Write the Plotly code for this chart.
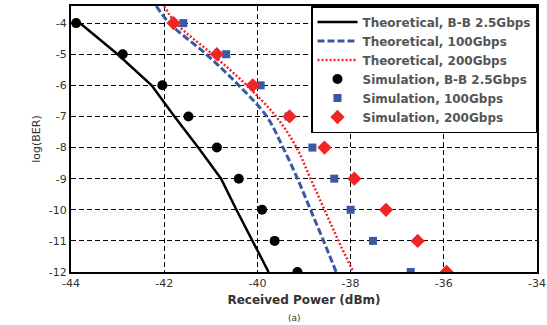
import plotly.graph_objects as go

# Theoretical curves (x = received power dBm, y = log(BER))
th_bb_y = [-3.95, -5, -6, -7, -8, -9, -10, -11, -12]
th_bb_x = [-43.85, -43.0, -42.27, -41.78, -41.27, -40.78, -40.45, -40.1, -39.76]

th_100_y = [-3.45, -4, -5, -6, -7, -8, -9, -10, -11, -12]
th_100_x = [-42.17, -41.89, -41.1, -40.4, -39.8, -39.45, -39.14, -38.86, -38.58, -38.31]

th_200_y = [-3.45, -4, -5, -6, -7, -8, -9, -10, -11, -12]
th_200_x = [-42.0, -41.75, -40.97, -40.23, -39.6, -39.16, -38.86, -38.56, -38.26, -37.94]

# Simulation points
sim_y = [-4, -5, -6, -7, -8, -9, -10, -11, -12]
sim_bb_x = [-43.89, -42.89, -42.04, -41.48, -40.87, -40.4, -39.9, -39.63, -39.14]
sim_100_x = [-41.59, -40.67, -39.93, -39.33, -38.82, -38.35, -38.0, -37.52, -36.71]
sim_200_x = [-41.8, -40.87, -40.1, -39.31, -38.56, -37.92, -37.24, -36.56, -35.94]

x_ticks = [-44, -42, -40, -38, -36, -34]
y_ticks = [-4, -5, -6, -7, -8, -9, -10, -11, -12]

BLUE = "#3b57a8"
RED = "#f02525"

fig = go.Figure()
fig.add_trace(go.Scatter(x=th_bb_x, y=th_bb_y, mode="lines", name="Theoretical, B-B 2.5Gbps",
                         line=dict(color="black", width=2.5)))
fig.add_trace(go.Scatter(x=th_100_x, y=th_100_y, mode="lines", name="Theoretical, 100Gbps",
                         line=dict(color=BLUE, width=3, dash="7px,3px", shape="spline")))
fig.add_trace(go.Scatter(x=th_200_x, y=th_200_y, mode="lines", name="Theoretical, 200Gbps",
                         line=dict(color=RED, width=2.5, dash="2px,2px", shape="spline")))
fig.add_trace(go.Scatter(x=sim_bb_x, y=sim_y, mode="markers", name="Simulation, B-B 2.5Gbps",
                         marker=dict(color="black", size=10, symbol="circle")))
fig.add_trace(go.Scatter(x=sim_100_x, y=sim_y, mode="markers", name="Simulation, 100Gbps",
                         marker=dict(color=BLUE, size=8, symbol="square")))
fig.add_trace(go.Scatter(x=sim_200_x, y=sim_y, mode="markers", name="Simulation, 200Gbps",
                         marker=dict(color=RED, size=11, symbol="diamond")))

axis_common = dict(
    showgrid=True, gridcolor="black", gridwidth=1, griddash="5px,3px",
    showline=True, linecolor="black", linewidth=2, mirror=True,
    zeroline=False, ticks="", ticklabeloverflow="allow", automargin=False,
    tickfont=dict(family="DejaVu Sans", size=11, color="#333333"),
)

fig.update_layout(
    width=547, height=325,
    margin=dict(l=71, r=10, t=6, b=53),
    paper_bgcolor="white", plot_bgcolor="white",
    font=dict(family="DejaVu Sans", color="#333333"),
    xaxis=dict(range=[-44, -34], tickvals=x_ticks, ticktext=[str(v) for v in x_ticks],
               title=dict(text="<b>Received Power (dBm)</b>", font=dict(size=12, color="#333333"), standoff=6),
               **axis_common),
    yaxis=dict(range=[-12, -3.45], tickvals=y_ticks, ticktext=[str(v) for v in y_ticks],
               title=dict(text="log(BER)", font=dict(size=11, color="#333333"), standoff=6),
               **axis_common),
    legend=dict(x=1, xanchor="right", y=1, yanchor="top", bgcolor="white",
                bordercolor="black", borderwidth=1.5,
                font=dict(family="DejaVu Sans", size=12, color="#555555", weight="bold"),
                tracegroupgap=0, itemwidth=40),
    showlegend=True,
)
fig.add_annotation(text="(a)", xref="paper", yref="paper", x=0.48, y=-0.173, yanchor="middle",
                   showarrow=False, font=dict(size=9, color="#333333"))

fig.write_html("out.html")
